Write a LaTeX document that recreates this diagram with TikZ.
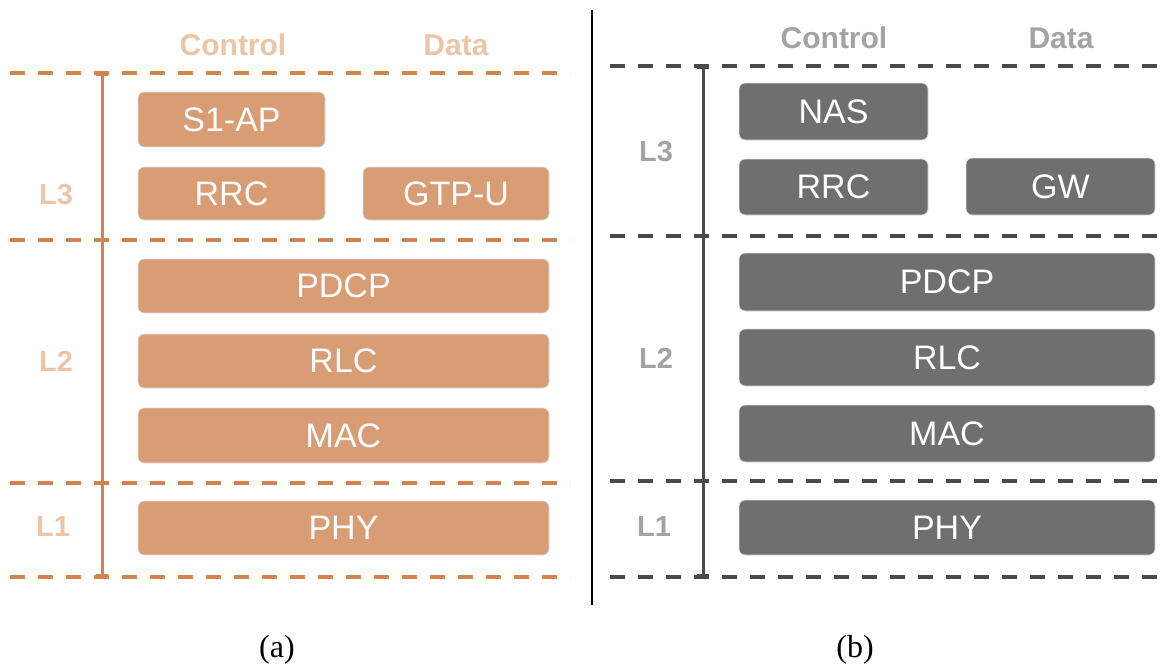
\documentclass[tikz,border=0pt]{standalone}
\usepackage{fontspec}
\setmainfont{Liberation Sans}
\newfontfamily\capfont{Liberation Serif}
\usetikzlibrary{arrows.meta}

\definecolor{boxA}{RGB}{216,157,116}
\definecolor{lineA}{RGB}{210,132,79}
\definecolor{labelA}{RGB}{236,196,166}
\definecolor{boxB}{RGB}{111,111,111}
\definecolor{lineB}{RGB}{74,74,74}
\definecolor{labelB}{RGB}{163,163,163}

\tikzset{
  layer/.style={rounded corners=6pt, draw=black!12, line width=0.8pt,
    text=white, inner sep=0pt, font=\fontsize{34}{34}\selectfont},
  layerA/.style={layer, fill=boxA},
  layerB/.style={layer, fill=boxB},
  head/.style={font=\bfseries\fontsize{30}{30}\selectfont},
  lvl/.style={font=\bfseries\fontsize{29}{29}\selectfont},
  divider/.style={dash pattern=on 15pt off 13pt, line width=3.5pt},
  span/.style={line width=3pt, {Bar[width=12pt]}-{Bar[width=12pt]}},
  caption/.style={font=\capfont\fontsize{32}{32}\selectfont}
}

\begin{document}
\begin{tikzpicture}[x=1pt, y=-1pt]
\useasboundingbox (0,0) rectangle (1167,669);

% ---------------- panel (a): eNodeB stack ----------------
\node[head, text=labelA] (ctlA) at (233,45) {Control};
\node[head, text=labelA] (datA) at (456,45) {Data};

\foreach \yy/\nm in {73/a1, 240/a2, 483/a3, 577/a4} {
  \coordinate (\nm l) at (10,\yy);
  \coordinate (\nm r) at (570,\yy);
  \draw[divider, lineA] (\nm l) -- (\nm r);
}
\coordinate (spanAt) at (102,73);
\coordinate (spanAb) at (102,577);
\draw[span, lineA] (spanAt) -- (spanAb);

\node[lvl, text=labelA] (l3A) at (56,195) {L3};
\node[lvl, text=labelA] (l2A) at (56,361) {L2};
\node[lvl, text=labelA] (l1A) at (53,527) {L1};

\node[layerA, minimum width=187pt, minimum height=55pt] (s1ap) at (231.5,119.5) {S1-AP};
\node[layerA, minimum width=187pt, minimum height=53pt] (rrcA) at (231.5,193.5) {RRC};
\node[layerA, minimum width=186pt, minimum height=53pt] (gtpu) at (456,193.5) {GTP-U};
\node[layerA, minimum width=411pt, minimum height=54pt] (pdcpA) at (343.5,286) {PDCP};
\node[layerA, minimum width=411pt, minimum height=54pt] (rlcA) at (343.5,361) {RLC};
\node[layerA, minimum width=411pt, minimum height=55pt] (macA) at (343.5,435.5) {MAC};
\node[layerA, minimum width=411pt, minimum height=54pt] (phyA) at (343.5,528) {PHY};

\node[caption] (capA) at (277,650) {(a)};

% separator between the two panels
\coordinate (sepT) at (592,10);
\coordinate (sepB) at (592,605);
\draw[line width=1.2pt, black] (sepT) -- (sepB);

% ---------------- panel (b): UE stack ----------------
\node[head, text=labelB] (ctlB) at (834,38) {Control};
\node[head, text=labelB] (datB) at (1061,38) {Data};

\foreach \yy/\nm in {66/b1, 236/b2, 481/b3, 577/b4} {
  \coordinate (\nm l) at (610,\yy);
  \coordinate (\nm r) at (1167,\yy);
  \draw[divider, lineB] (\nm l) -- (\nm r);
}
\coordinate (spanBt) at (703,66);
\coordinate (spanBb) at (703,577);
\draw[span, lineB] (spanBt) -- (spanBb);

\node[lvl, text=labelB] (l3B) at (656,152) {L3};
\node[lvl, text=labelB] (l2B) at (656,358) {L2};
\node[lvl, text=labelB] (l1B) at (654,527) {L1};

\node[layerB, minimum width=189pt, minimum height=57pt] (nas) at (833.5,111.5) {NAS};
\node[layerB, minimum width=189pt, minimum height=56pt] (rrcB) at (833.5,187) {RRC};
\node[layerB, minimum width=189pt, minimum height=57pt] (gw) at (1060.5,186.5) {GW};
\node[layerB, minimum width=416pt, minimum height=58pt] (pdcpB) at (947,282) {PDCP};
\node[layerB, minimum width=416pt, minimum height=57pt] (rlcB) at (947,357.5) {RLC};
\node[layerB, minimum width=416pt, minimum height=57pt] (macB) at (947,433.5) {MAC};
\node[layerB, minimum width=416pt, minimum height=55pt] (phyB) at (947,527.5) {PHY};

\node[caption] (capB) at (855,650) {(b)};
\end{tikzpicture}
\end{document}
